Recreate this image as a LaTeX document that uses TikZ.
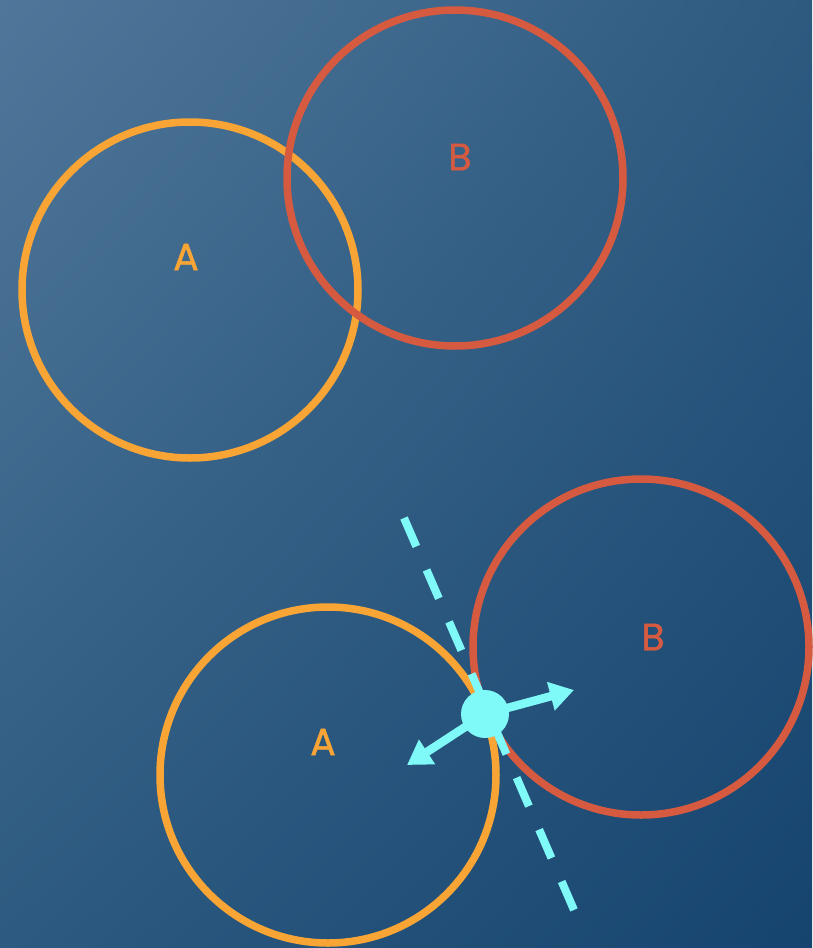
\documentclass[tikz,border=0pt]{standalone}
\usepackage{fontspec}
\setmainfont{Poppins}
\newfontfamily\lblfont{Poppins}[FakeBold=1.2]
\usetikzlibrary{arrows.meta,shadings}
\definecolor{bgUL}{HTML}{50779A}
\definecolor{bgUR}{HTML}{2E5A80}
\definecolor{bgLL}{HTML}{2D5A80}
\definecolor{bgLR}{HTML}{15446F}
\definecolor{orA}{HTML}{F9A535}
\definecolor{rdB}{HTML}{D65A40}
\definecolor{cy}{HTML}{80FAF8}
\tikzset{
  ring/.style={circle, draw=#1, line width=7.5pt, minimum size=336pt, inner sep=0pt},
  lbl/.style={text=#1, font=\lblfont\fontsize{38}{40}\selectfont, inner sep=0pt},
  sep/.style={draw=cy, line width=8pt, dash pattern=on 31pt off 25.6pt},
  dot/.style={circle, fill=cy, minimum size=48pt, inner sep=0pt},
  push/.style={draw=cy, line width=8.5pt, -{Triangle[length=24pt,width=28pt]}, shorten <=-2pt}
}
\begin{document}
\begin{tikzpicture}[x=1pt,y=-1pt]
\useasboundingbox (0,0) rectangle (812,948);
\shade[upper left=bgUL, upper right=bgUR, lower left=bgLL, lower right=bgLR] (0,0) rectangle (812,948);
% top pair
\node[ring=orA] (tA) at (190,290) {};
\node[ring=rdB] (tB) at (455,178) {};
\node[lbl=orA] (tAl) at (186,257) {A};
\node[lbl=rdB] (tBl) at (460,157) {B};
% bottom pair
\node[ring=orA] (bA) at (328,775) {};
\node[ring=rdB] (bB) at (641,647) {};
\node[lbl=orA] (bAl) at (323,742) {A};
\node[lbl=rdB] (bBl) at (653,637) {B};
% separating line
\coordinate (s1) at (404,518);
\coordinate (s2) at (574,910);
\draw[sep] (s1) -- (s2);
% contact point and push arrows
\node[dot] (p) at (485,714) {};
\coordinate (ar) at (574,690);
\coordinate (al) at (407,765);
\draw[push] (p) -- (ar);
\draw[push] (p) -- (al);
\end{tikzpicture}
\end{document}
